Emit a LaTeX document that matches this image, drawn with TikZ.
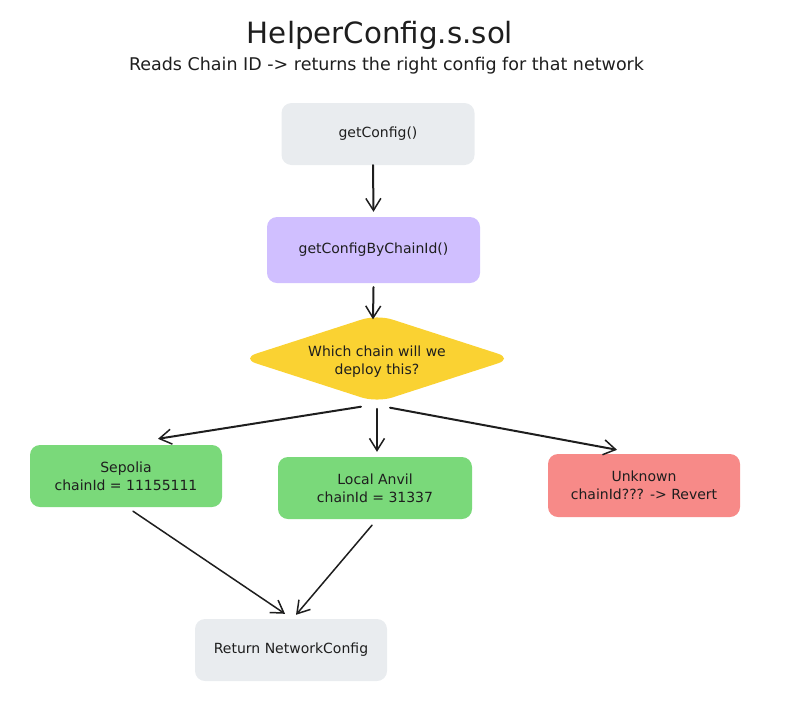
\documentclass[tikz,border=0pt]{standalone}
\usepackage{fontspec}
\setmainfont{DejaVu Sans}
\usetikzlibrary{arrows.meta,shapes.geometric,calc}
\definecolor{ink}{HTML}{1E1E1E}
\definecolor{boxgray}{HTML}{E9ECEF}
\definecolor{boxpurple}{HTML}{D0BFFF}
\definecolor{boxyellow}{HTML}{FAD232}
\definecolor{boxgreen}{HTML}{7AD97A}
\definecolor{boxred}{HTML}{F78A88}
\begin{document}
\begin{tikzpicture}[x=1pt,y=-1pt,
  box/.style={rounded corners=10pt, inner sep=0pt, text=ink, align=center,
    font=\fontsize{14}{18}\selectfont, fill=#1},
  conn/.style={draw=ink, line width=1.5pt, line cap=round,
    -{Straight Barb[length=12pt,width=15pt,line width=1.5pt]}},
  thickconn/.style={conn, line width=2pt},
  lbl/.style={text=ink, align=center, inner sep=0pt}]
\useasboundingbox (0,0) rectangle (792,713);

\node[lbl, anchor=base, font=\fontsize{29.3}{34}\selectfont] (title) at (380,43) {HelperConfig.s.sol};
\node[lbl, anchor=base, font=\fontsize{17.5}{20}\selectfont] (sub) at (386.5,70) {Reads Chain ID -> returns the right config for that network};

\node[box=boxgray, minimum width=193pt, minimum height=62pt] (top) at (378,134) {getConfig()};
\node[box=boxpurple, minimum width=213pt, minimum height=66pt] (bc) at (373.5,250) {getConfigByChainId()};
\node[diamond, fill=boxyellow, rounded corners=16pt, inner sep=0pt,
  minimum width=272pt, minimum height=88pt] (dia) at (377,358.5) {};
\node[lbl, font=\fontsize{14}{18}\selectfont] (diatext) at ($(dia.center)+(0,3)$) {Which chain will we\\deploy this?};

\node[box=boxgreen, minimum width=192pt, minimum height=62pt] (sep) at (126,476) {Sepolia\\chainId = 11155111};
\node[box=boxgreen, minimum width=194pt, minimum height=62pt] (loc) at (375,488) {Local Anvil\\chainId = 31337};
\node[box=boxred, minimum width=192pt, minimum height=63pt] (unk) at (644,485.5) {Unknown\\chainId??? -> Revert};
\node[box=boxgray, minimum width=192pt, minimum height=62pt] (ret) at (291,650) {Return NetworkConfig};

\draw[thickconn] ($(top.south)+(-5,0)$) -- ($(bc.north)+(0,-5)$);
\draw[thickconn] ($(bc.south)+(0,4)$) -- ($(dia.north)+(-4,5)$);
\draw[thickconn] ($(dia.south)+(-16,4)$) -- ($(sep.north)+(32,-6)$);
\draw[conn] ($(dia.south)+(0,6)$) -- ($(loc.north)+(2,-5)$);
\draw[thickconn] ($(dia.south)+(13,5)$) -- ($(unk.north)+(-27,-4)$);
\draw[conn] ($(sep.south)+(7,4)$) -- ($(ret.north)+(-6,-5)$);
\draw[conn] ($(loc.south)+(-3,6)$) -- ($(ret.north)+(5,-4)$);
\end{tikzpicture}
\end{document}
